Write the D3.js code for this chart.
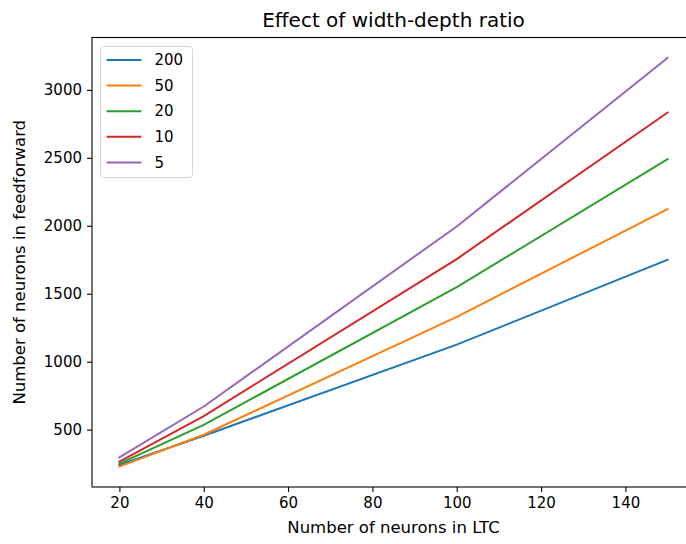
<!DOCTYPE html>
<html>
<head>
<meta charset="utf-8">
<script src="https://cdn.jsdelivr.net/npm/d3@7"></script>
<style>
  body { margin: 0; background: #fff; }
  svg { display: block; font-family: "DejaVu Sans", sans-serif; }
</style>
</head>
<body>
<script>
// data
var ltcNeurons = [20, 40, 100, 150];
var ratios = ["200", "50", "20", "10", "5"];
var ffw200 = [240, 455, 1125, 1750];
var ffw50 = [228, 462, 1330, 2123];
var ffw20 = [250, 535, 1548, 2490];
var ffw10 = [265, 600, 1755, 2833];
var ffw5 = [295, 670, 1995, 3235];
var xTicks = [20, 40, 60, 80, 100, 120, 140];
var yTicks = [500, 1000, 1500, 2000, 2500, 3000];
var colors = ["#1f77b4", "#ff7f0e", "#2ca02c", "#d62728", "#9467bd"];

var seriesValues = [ffw200, ffw50, ffw20, ffw10, ffw5];

var svgWidth = 686;
var svgHeight = 544;

// axes box (right spine falls just outside the picture)
var plot = { left: 92, top: 37.5, right: 695, bottom: 487 };

var svg = d3.select("body")
  .append("svg")
  .attr("width", svgWidth)
  .attr("height", svgHeight);

// matplotlib-like 5% margins
var allY = d3.merge(seriesValues);
var xMin = d3.min(ltcNeurons), xMax = d3.max(ltcNeurons);
var yMin = d3.min(allY), yMax = d3.max(allY);
var xPad = (xMax - xMin) * 0.05, yPad = (yMax - yMin) * 0.05;

var x = d3.scaleLinear()
  .domain([xMin - xPad, xMax + xPad])
  .range([plot.left, plot.right]);

var y = d3.scaleLinear()
  .domain([yMin - yPad, yMax + yPad])
  .range([plot.bottom, plot.top]);

// lines
var line = d3.line()
  .x(function (d, i) { return x(ltcNeurons[i]); })
  .y(function (d) { return y(d); });

svg.append("g")
  .selectAll("path")
  .data(seriesValues)
  .enter()
  .append("path")
  .attr("d", line)
  .attr("fill", "none")
  .attr("stroke", function (d, i) { return colors[i]; })
  .attr("stroke-width", 2)
  .attr("stroke-linecap", "square");

// spines
svg.append("rect")
  .attr("x", plot.left)
  .attr("y", plot.top)
  .attr("width", plot.right - plot.left)
  .attr("height", plot.bottom - plot.top)
  .attr("fill", "none")
  .attr("stroke", "#000")
  .attr("stroke-width", 1.1);

// axes
var bottomAxis = d3.axisBottom(x)
  .tickValues(xTicks)
  .tickFormat(d3.format("d"))
  .tickSize(5)
  .tickPadding(5);

var leftAxis = d3.axisLeft(y)
  .tickValues(yTicks)
  .tickFormat(d3.format("d"))
  .tickSize(5)
  .tickPadding(5);

var gx = svg.append("g")
  .attr("transform", "translate(0," + plot.bottom + ")")
  .call(bottomAxis);

var gy = svg.append("g")
  .attr("transform", "translate(" + plot.left + ",0)")
  .call(leftAxis);

[gx, gy].forEach(function (g) {
  g.select(".domain").remove();
  g.selectAll(".tick line").attr("stroke", "#000").attr("stroke-width", 1.1);
  g.selectAll(".tick text")
    .attr("fill", "#000")
    .style("font-size", "15px")
    .style("font-family", "DejaVu Sans, sans-serif");
});

// title and axis labels
svg.append("text")
  .attr("x", (plot.left + plot.right) / 2)
  .attr("y", 27)
  .attr("text-anchor", "middle")
  .style("font-size", "20px")
  .text("Effect of width-depth ratio");

svg.append("text")
  .attr("x", (plot.left + plot.right) / 2)
  .attr("y", 533)
  .attr("text-anchor", "middle")
  .style("font-size", "16.5px")
  .text("Number of neurons in LTC");

svg.append("text")
  .attr("transform", "translate(25," + (plot.top + plot.bottom) / 2 + ") rotate(-90)")
  .attr("text-anchor", "middle")
  .style("font-size", "16.5px")
  .text("Number of neurons in feedforward");

// legend
var legend = svg.append("g")
  .attr("transform", "translate(100.5,46.5)");

legend.append("rect")
  .attr("width", 92)
  .attr("height", 131)
  .attr("rx", 3)
  .attr("fill", "#fff")
  .attr("fill-opacity", 0.8)
  .attr("stroke", "#d5d5d5")
  .attr("stroke-width", 1);

var item = legend.selectAll(".item")
  .data(ratios)
  .enter()
  .append("g")
  .attr("class", "item")
  .attr("transform", function (d, i) { return "translate(0," + (13.5 + i * 25.6) + ")"; });

item.append("line")
  .attr("x1", 6)
  .attr("x2", 41)
  .attr("stroke", function (d, i) { return colors[i]; })
  .attr("stroke-width", 2);

item.append("text")
  .attr("x", 54)
  .attr("dy", "0.35em")
  .style("font-size", "15px")
  .text(function (d) { return d; });
</script>
</body>
</html>
